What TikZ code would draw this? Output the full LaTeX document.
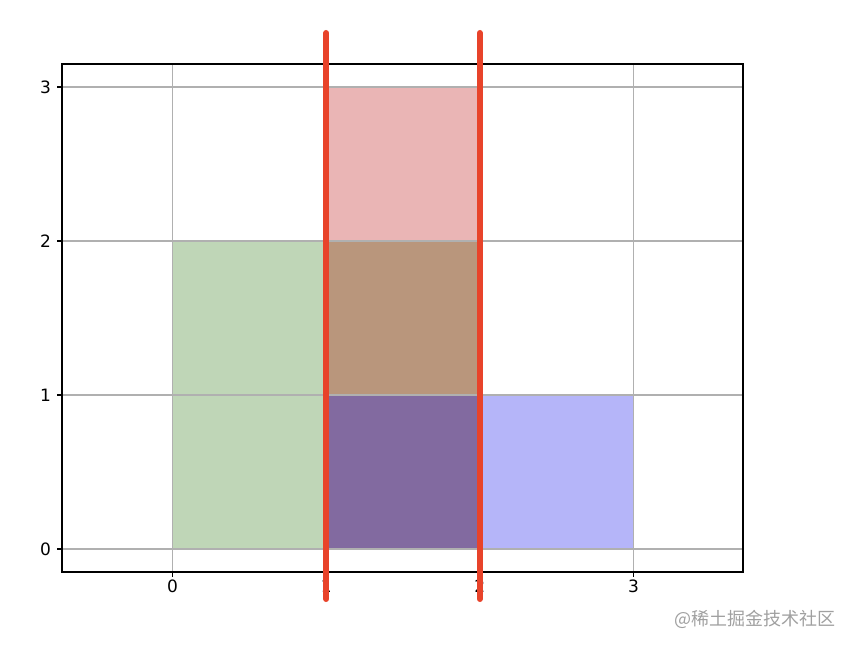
\documentclass[tikz,border=0pt]{standalone}
\usepackage{fontspec}
\setmainfont{DejaVu Sans}
\newfontfamily\cjkfont{Noto Sans CJK SC}
\definecolor{gfill}{RGB}{191,214,183}
\definecolor{gedge}{RGB}{170,192,162}
\definecolor{rfill}{RGB}{234,181,181}
\definecolor{redge}{RGB}{200,165,165}
\definecolor{bfill}{RGB}{181,181,249}
\definecolor{bedge}{RGB}{165,165,225}
\definecolor{brfill}{RGB}{185,150,124}
\definecolor{pfill}{RGB}{130,106,160}
\definecolor{gridc}{RGB}{176,176,176}
\definecolor{vline}{RGB}{232,67,42}
\definecolor{wm}{RGB}{160,160,160}
\tikzset{
  gridline/.style={draw=gridc, line width=1.1pt},
  frame/.style={draw=black, line width=1.2pt},
  tickmark/.style={draw=black, line width=1.1pt},
  ticklbl/.style={font=\fontsize{17}{20}\selectfont, inner sep=0pt},
  redline/.style={draw=vline, line width=6pt, line cap=round},
}
\begin{document}
\begin{tikzpicture}[x=153.67pt, y=154pt]
\useasboundingbox (-1.1225,-0.6429) rectangle (4.4348,3.5649);
% bars
\fill[gfill] (0,0) rectangle (1,2);
\fill[pfill] (1,0) rectangle (2,1);
\fill[brfill] (1,1) rectangle (2,2);
\fill[rfill] (1,2) rectangle (2,3);
\fill[bfill] (2,0) rectangle (3,1);
\draw[gedge, line width=1pt] (0,0) rectangle (1,2);
\draw[redge, line width=1pt] (1,2) -- (2,2) (1,3) -- (2,3);
\draw[bedge, line width=1pt] (2,0) rectangle (3,1);
\draw[draw=pfill!80!black, line width=1pt] (1,1) -- (2,1) (1,0) -- (2,0);
% grid
\foreach \v in {0,1,2,3} {
  \draw[gridline] (\v,-0.1494) -- (\v,3.1494);
  \draw[gridline] (-0.7191,\v) -- (3.7125,\v);
}
% frame
\draw[frame] (-0.7191,-0.1494) rectangle (3.7125,3.1494);
% ticks and labels
\foreach \v in {0,1,2,3} {
  \draw[tickmark] (\v,-0.1494) -- ++(0,-5pt);
  \node[ticklbl, anchor=north] (xl\v) at (\v,-0.2) {\v};
  \draw[tickmark] (-0.7191,\v) -- ++(-5pt,0);
  \node[ticklbl, anchor=east] (yl\v) at (-0.79,\v) {\v};
}
% red vertical lines
\coordinate (r1top) at (1.0,3.3506);
\coordinate (r1bot) at (1.0,-0.3247);
\coordinate (r2top) at (2.0,3.3506);
\coordinate (r2bot) at (2.0,-0.3247);
\draw[redline] (r1top) -- (r1bot);
\draw[redline] (r2top) -- (r2bot);
% watermark
\node[font=\cjkfont\fontsize{18}{20}\selectfont, text=wm, inner sep=0pt] (wm) at (3.7906,-0.4545) {@稀土掘金技术社区};
\end{tikzpicture}
\end{document}
